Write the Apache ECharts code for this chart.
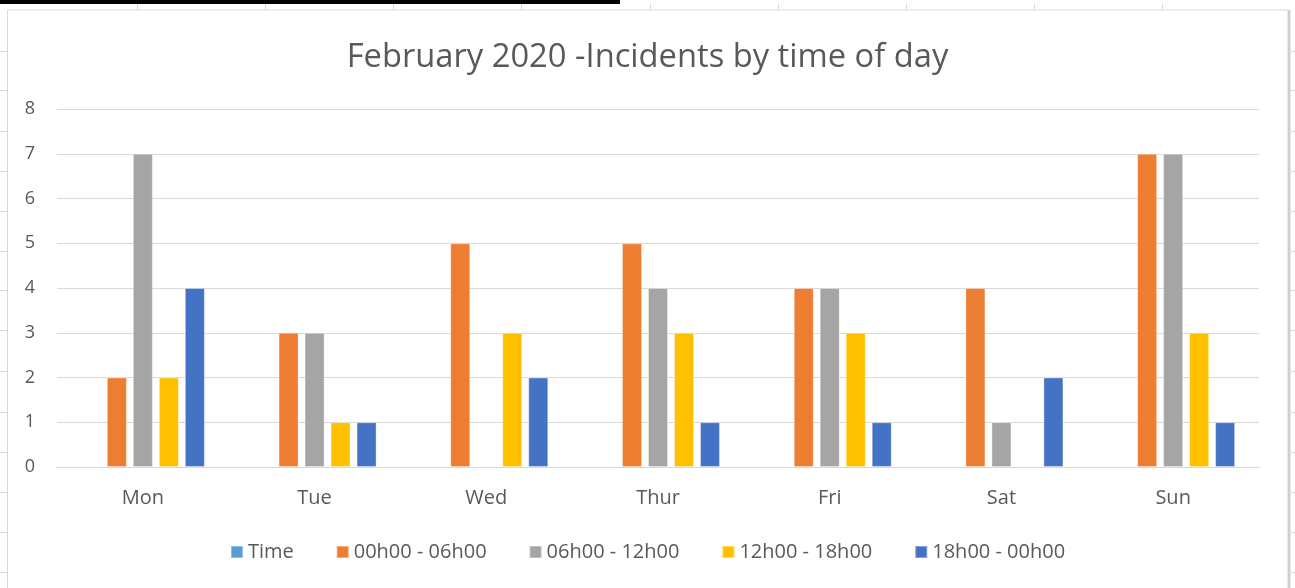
<!DOCTYPE html>
<html>
<head>
<meta charset="utf-8">
<script src="https://cdn.jsdelivr.net/npm/echarts@6/dist/echarts.min.js"></script>
<style>
html,body{margin:0;padding:0;background:#fff;}
#chart{width:1295px;height:588px;}
</style>
</head>
<body>
<div id="chart"></div>
<script>
const categories = ['Mon', 'Tue', 'Wed', 'Thur', 'Fri', 'Sat', 'Sun'];
const seriesNames = ['Time', '00h00 - 06h00', '06h00 - 12h00', '12h00 - 18h00', '18h00 - 00h00'];
const timeValues = [null, null, null, null, null, null, null];
const night = [2, 3, 5, 5, 4, 4, 7];
const morning = [7, 3, null, 4, 4, 1, 7];
const afternoon = [2, 1, 3, 3, 3, null, 3];
const evening = [4, 1, 2, 1, 1, 2, 1];
const yTicks = [0, 1, 2, 3, 4, 5, 6, 7, 8];

const colors = ['#5B9BD5', '#ED7D31', '#A5A5A5', '#FFC000', '#4472C4'];
const font = 'Open Sans';
const allData = [timeValues, night, morning, afternoon, evening];

const chart = echarts.init(document.getElementById('chart'), null, {renderer: 'canvas'});

const graphics = [];
graphics.push({type: 'rect', shape: {x: 0, y: 0, width: 620, height: 4}, style: {fill: '#000'}, silent: true});
graphics.push({type: 'line', shape: {x1: 7, y1: 10, x2: 1289, y2: 10}, style: {stroke: '#d9d9d9', lineWidth: 1}, silent: true});
graphics.push({type: 'line', shape: {x1: 7.5, y1: 10, x2: 7.5, y2: 588}, style: {stroke: '#d9d9d9', lineWidth: 1}, silent: true});
graphics.push({type: 'line', shape: {x1: 1289, y1: 10, x2: 1289, y2: 588}, style: {stroke: '#cfcfcf', lineWidth: 3}, silent: true});
[137, 265, 393, 521, 650, 778, 906, 1034, 1162].forEach(x => {
  graphics.push({type: 'line', shape: {x1: x + 0.5, y1: 4, x2: x + 0.5, y2: 10}, style: {stroke: '#d9d9d9', lineWidth: 1}, silent: true});
});
[51, 90, 131, 171, 211, 251, 290, 330, 371, 412, 452, 492, 532, 572].forEach(y => {
  graphics.push({type: 'line', shape: {x1: 0, y1: y + 0.5, x2: 7, y2: y + 0.5}, style: {stroke: '#d9d9d9', lineWidth: 1}, silent: true});
  graphics.push({type: 'line', shape: {x1: 1289, y1: y + 0.5, x2: 1295, y2: y + 0.5}, style: {stroke: '#d9d9d9', lineWidth: 1}, silent: true});
});

chart.setOption({
  animation: false,
  backgroundColor: '#ffffff',
  color: colors,
  title: {
    text: 'February 2020 -Incidents by time of day',
    left: 'center',
    top: 36,
    textStyle: {fontFamily: font, fontSize: 32.7, fontWeight: 'normal', color: '#595959'}
  },
  legend: {
    data: seriesNames,
    top: 537,
    left: 'center',
    itemWidth: 12,
    itemHeight: 12,
    itemGap: 42,
    icon: 'rect',
    textStyle: {fontFamily: font, fontSize: 20, color: '#595959'}
  },
  grid: {left: 57, right: 36, top: 109, bottom: 121, containLabel: false},
  xAxis: {
    type: 'category',
    data: categories,
    axisLine: {show: true, lineStyle: {color: '#d9d9d9', width: 1}},
    axisTick: {show: false},
    axisLabel: {fontFamily: font, fontSize: 20, color: '#595959', margin: 21}
  },
  yAxis: {
    type: 'value',
    min: 0,
    max: 8,
    interval: 1,
    axisLine: {show: false},
    axisTick: {show: false},
    splitLine: {lineStyle: {color: '#d9d9d9', width: 1}},
    axisLabel: {fontFamily: font, fontSize: 18, color: '#595959', margin: 22,
      formatter: v => yTicks.includes(v) ? String(v) : ''}
  },
  series: seriesNames.map((name, i) => ({
    name: name,
    type: 'bar',
    data: allData[i],
    barWidth: 20,
    barGap: '30%',
    itemStyle: {color: colors[i], borderColor: 'rgba(255,255,255,0.35)', borderWidth: 1}
  })),
  graphic: graphics
});
</script>
</body>
</html>
